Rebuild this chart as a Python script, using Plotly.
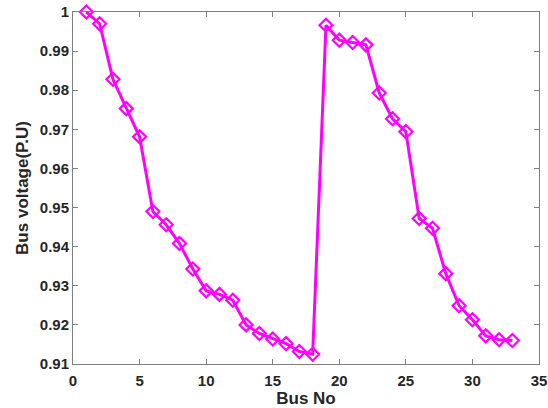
import plotly.graph_objects as go

bus_no = list(range(1, 34))
voltage = [1.0000, 0.9970, 0.9828, 0.9753, 0.9681, 0.9490, 0.9456, 0.9408, 0.9343, 0.9287,
           0.9278, 0.9263, 0.9200, 0.9178, 0.9164, 0.9152, 0.9132, 0.9125, 0.9966, 0.9928,
           0.9922, 0.9916, 0.9793, 0.9727, 0.9694, 0.9472, 0.9447, 0.9331, 0.9249, 0.9213,
           0.9172, 0.9162, 0.9160]
x_ticks = [0, 5, 10, 15, 20, 25, 30, 35]
y_ticks = [0.91, 0.92, 0.93, 0.94, 0.95, 0.96, 0.97, 0.98, 0.99, 1.0]
y_ticktext = ["0.91", "0.92", "0.93", "0.94", "0.95", "0.96", "0.97", "0.98", "0.99", "1"]

fig = go.Figure()
fig.add_trace(go.Scatter(
    x=bus_no, y=voltage, mode="lines+markers", cliponaxis=False,
    line=dict(color="#ff00ff", width=3),
    marker=dict(symbol="diamond-open", size=10, color="#ff00ff", line=dict(width=2.2, color="#ff00ff")),
    showlegend=False,
))

font_fam = "Liberation Sans, Arial, sans-serif"
axis_common = dict(
    showgrid=False, zeroline=False, showline=True, linecolor="#7f7f7f", linewidth=1,
    mirror="ticks", ticks="inside", ticklen=5, tickcolor="#7f7f7f", automargin=False,
    tickfont=dict(family=font_fam, size=15, color="#262626"),
)
fig.update_xaxes(range=[0, 35], tickvals=x_ticks, ticklabelstandoff=3,
                 title=dict(text="<b>Bus No</b>", font=dict(family=font_fam, size=17, color="#262626"), standoff=4),
                 **axis_common)
fig.update_yaxes(range=[0.91, 1.0], tickvals=y_ticks, ticktext=["<b>%s</b>" % t for t in y_ticktext],
                 title=dict(text="<b>Bus voltage(P.U)</b>", font=dict(family=font_fam, size=17, color="#262626"), standoff=6),
                 **axis_common)
fig.update_xaxes(ticktext=["<b>%d</b>" % v for v in x_ticks])

fig.update_layout(
    width=548, height=408,
    margin=dict(l=73, r=9, t=12, b=44),
    paper_bgcolor="white", plot_bgcolor="white",
)
fig.write_html("out.html")
